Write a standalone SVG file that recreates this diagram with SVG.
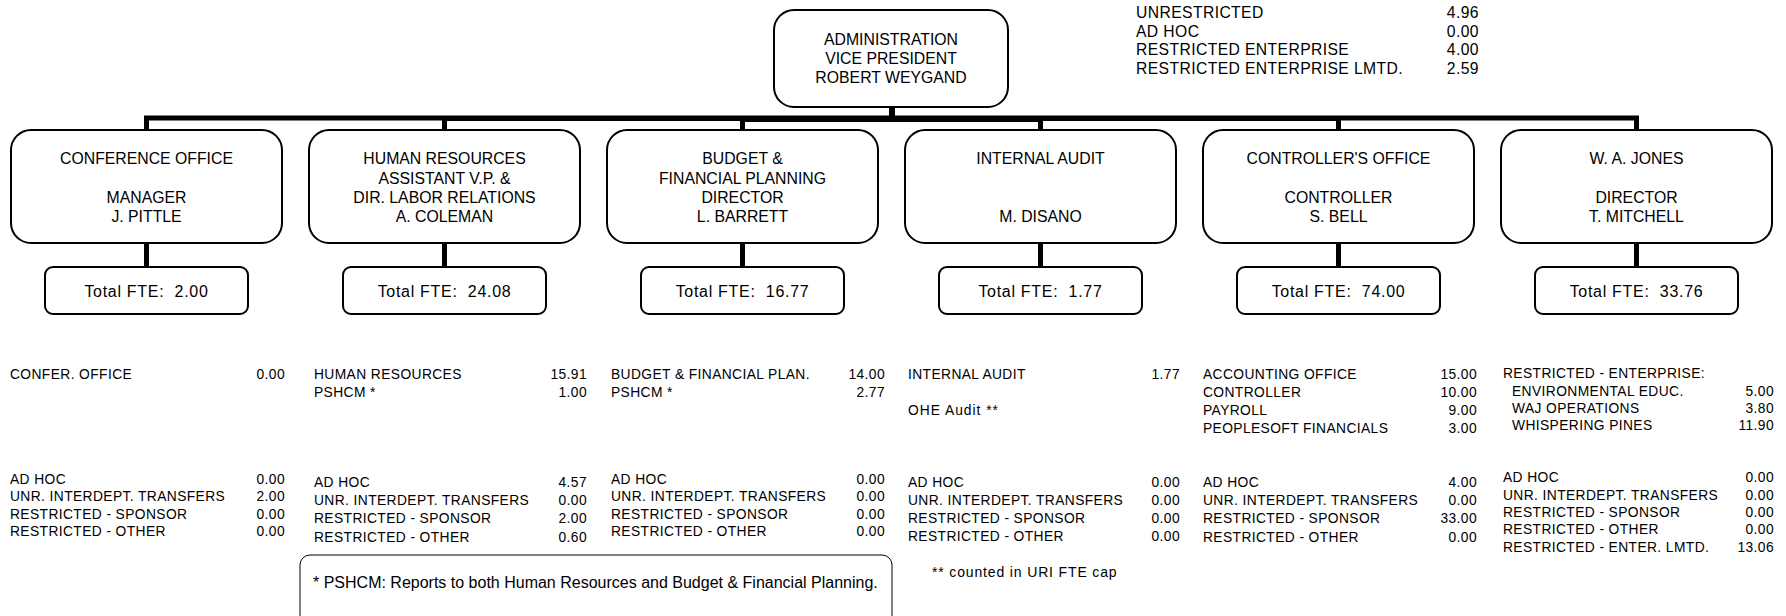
<svg xmlns="http://www.w3.org/2000/svg" width="1786" height="616" viewBox="0 0 1786 616">
<style>
.box{fill:#fff;stroke:#000;stroke-width:2}
.fte{fill:#fff;stroke:#000;stroke-width:2}
.note{fill:#fff;stroke:#000;stroke-width:1}
.conn{fill:none;stroke:#000;stroke-width:5}
.t{font-family:"Liberation Sans",Arial,sans-serif;font-size:15.8px;fill:#000;text-anchor:middle}
.f{font-family:"Liberation Sans",Arial,sans-serif;font-size:16px;letter-spacing:0.7px;fill:#000;text-anchor:middle}
.d{font-family:"Liberation Sans",Arial,sans-serif;font-size:13.8px;letter-spacing:0.4px;fill:#000}
.v{font-family:"Liberation Sans",Arial,sans-serif;font-size:13.8px;letter-spacing:0.4px;fill:#000;text-anchor:end}
.m{font-family:"Liberation Sans",Arial,sans-serif;font-size:13.8px;letter-spacing:1px;fill:#000}
.l{font-family:"Liberation Sans",Arial,sans-serif;font-size:15.7px;letter-spacing:0.4px;fill:#000}
.lv{font-family:"Liberation Sans",Arial,sans-serif;font-size:15.7px;letter-spacing:0.4px;fill:#000;text-anchor:end}
.n{font-family:"Liberation Sans",Arial,sans-serif;font-size:16px;fill:#000}
.c{font-family:"Liberation Sans",Arial,sans-serif;font-size:14px;letter-spacing:0.85px;fill:#000}
</style>

<g id="connectors">
<path class="conn" d="M892,107 V118 H146.5 V130"/>
<path class="conn" d="M892,107 V118.5 H444.5 V130"/>
<path class="conn" d="M892,107 V119.5 H742.5 V130"/>
<path class="conn" d="M892,107 V119.5 H1040.5 V130"/>
<path class="conn" d="M892,107 V118.5 H1338.5 V130"/>
<path class="conn" d="M892,107 V118 H1636.5 V130"/>
<path class="conn" d="M146.5,243 V267"/>
<path class="conn" d="M444.5,243 V267"/>
<path class="conn" d="M742.5,243 V267"/>
<path class="conn" d="M1040.5,243 V267"/>
<path class="conn" d="M1338.5,243 V267"/>
<path class="conn" d="M1636.5,243 V267"/>
</g>

<g id="admin">
<rect class="box" x="774" y="10" width="234" height="97" rx="20"/>
<text class="t" x="891" y="45">ADMINISTRATION</text>
<text class="t" x="891" y="64">VICE PRESIDENT</text>
<text class="t" x="891" y="83">ROBERT WEYGAND</text>
</g>

<g id="legend">
<text class="l" x="1136" y="18">UNRESTRICTED</text><text class="lv" x="1479" y="18">4.96</text>
<text class="l" x="1136" y="36.5">AD HOC</text><text class="lv" x="1479" y="36.5">0.00</text>
<text class="l" x="1136" y="55">RESTRICTED ENTERPRISE</text><text class="lv" x="1479" y="55">4.00</text>
<text class="l" x="1136" y="73.5">RESTRICTED ENTERPRISE LMTD.</text><text class="lv" x="1479" y="73.5">2.59</text>
</g>

<g id="conference">
<rect class="box" x="11" y="130" width="271" height="113" rx="20"/>
<text class="t" x="146.5" y="164">CONFERENCE OFFICE</text>
<text class="t" x="146.5" y="203">MANAGER</text>
<text class="t" x="146.5" y="222">J. PITTLE</text>
</g>
<g id="conference-fte">
<rect class="fte" x="45" y="267" width="203" height="47" rx="8"/>
<text class="f" x="146.5" y="297">Total FTE:&#160; 2.00</text>
</g>

<g id="hr">
<rect class="box" x="309" y="130" width="271" height="113" rx="20"/>
<text class="t" x="444.5" y="164">HUMAN RESOURCES</text>
<text class="t" x="444.5" y="183.5">ASSISTANT V.P. &amp;</text>
<text class="t" x="444.5" y="203">DIR. LABOR RELATIONS</text>
<text class="t" x="444.5" y="222">A. COLEMAN</text>
</g>
<g id="hr-fte">
<rect class="fte" x="343" y="267" width="203" height="47" rx="8"/>
<text class="f" x="444.5" y="297">Total FTE:&#160; 24.08</text>
</g>

<g id="budget">
<rect class="box" x="607" y="130" width="271" height="113" rx="20"/>
<text class="t" x="742.5" y="164">BUDGET &amp;</text>
<text class="t" x="742.5" y="183.5">FINANCIAL PLANNING</text>
<text class="t" x="742.5" y="203">DIRECTOR</text>
<text class="t" x="742.5" y="222">L. BARRETT</text>
</g>
<g id="budget-fte">
<rect class="fte" x="641" y="267" width="203" height="47" rx="8"/>
<text class="f" x="742.5" y="297">Total FTE:&#160; 16.77</text>
</g>

<g id="audit">
<rect class="box" x="905" y="130" width="271" height="113" rx="20"/>
<text class="t" x="1040.5" y="164">INTERNAL AUDIT</text>
<text class="t" x="1040.5" y="222">M. DISANO</text>
</g>
<g id="audit-fte">
<rect class="fte" x="939" y="267" width="203" height="47" rx="8"/>
<text class="f" x="1040.5" y="297">Total FTE:&#160; 1.77</text>
</g>

<g id="controller">
<rect class="box" x="1203" y="130" width="271" height="113" rx="20"/>
<text class="t" x="1338.5" y="164">CONTROLLER'S OFFICE</text>
<text class="t" x="1338.5" y="203">CONTROLLER</text>
<text class="t" x="1338.5" y="222">S. BELL</text>
</g>
<g id="controller-fte">
<rect class="fte" x="1237" y="267" width="203" height="47" rx="8"/>
<text class="f" x="1338.5" y="297">Total FTE:&#160; 74.00</text>
</g>

<g id="jones">
<rect class="box" x="1501" y="130" width="271" height="113" rx="20"/>
<text class="t" x="1636.5" y="164">W. A. JONES</text>
<text class="t" x="1636.5" y="203">DIRECTOR</text>
<text class="t" x="1636.5" y="222">T. MITCHELL</text>
</g>
<g id="jones-fte">
<rect class="fte" x="1535" y="267" width="203" height="47" rx="8"/>
<text class="f" x="1636.5" y="297">Total FTE:&#160; 33.76</text>
</g>

<g id="data-conference">
<text class="d" x="10" y="379">CONFER. OFFICE</text><text class="v" x="285" y="379">0.00</text>
<text class="d" x="10" y="483.5">AD HOC</text><text class="v" x="285" y="483.5">0.00</text>
<text class="d" x="10" y="501">UNR. INTERDEPT. TRANSFERS</text><text class="v" x="285" y="501">2.00</text>
<text class="d" x="10" y="518.5">RESTRICTED - SPONSOR</text><text class="v" x="285" y="518.5">0.00</text>
<text class="d" x="10" y="536">RESTRICTED - OTHER</text><text class="v" x="285" y="536">0.00</text>
</g>

<g id="data-hr">
<text class="d" x="314" y="379">HUMAN RESOURCES</text><text class="v" x="587" y="379">15.91</text>
<text class="d" x="314" y="396.7">PSHCM *</text><text class="v" x="587" y="396.7">1.00</text>
<text class="d" x="314" y="486.5">AD HOC</text><text class="v" x="587" y="486.5">4.57</text>
<text class="d" x="314" y="504.5">UNR. INTERDEPT. TRANSFERS</text><text class="v" x="587" y="504.5">0.00</text>
<text class="d" x="314" y="523">RESTRICTED - SPONSOR</text><text class="v" x="587" y="523">2.00</text>
<text class="d" x="314" y="541.5">RESTRICTED - OTHER</text><text class="v" x="587" y="541.5">0.60</text>
</g>

<g id="data-budget">
<text class="d" x="611" y="379">BUDGET &amp; FINANCIAL PLAN.</text><text class="v" x="885" y="379">14.00</text>
<text class="d" x="611" y="396.7">PSHCM *</text><text class="v" x="885" y="396.7">2.77</text>
<text class="d" x="611" y="483.5">AD HOC</text><text class="v" x="885" y="483.5">0.00</text>
<text class="d" x="611" y="501">UNR. INTERDEPT. TRANSFERS</text><text class="v" x="885" y="501">0.00</text>
<text class="d" x="611" y="518.5">RESTRICTED - SPONSOR</text><text class="v" x="885" y="518.5">0.00</text>
<text class="d" x="611" y="536">RESTRICTED - OTHER</text><text class="v" x="885" y="536">0.00</text>
</g>

<g id="data-audit">
<text class="d" x="908" y="379">INTERNAL AUDIT</text><text class="v" x="1180" y="379">1.77</text>
<text class="m" x="908" y="415">OHE Audit **</text>
<text class="d" x="908" y="486.5">AD HOC</text><text class="v" x="1180" y="486.5">0.00</text>
<text class="d" x="908" y="504.5">UNR. INTERDEPT. TRANSFERS</text><text class="v" x="1180" y="504.5">0.00</text>
<text class="d" x="908" y="522.7">RESTRICTED - SPONSOR</text><text class="v" x="1180" y="522.7">0.00</text>
<text class="d" x="908" y="540.5">RESTRICTED - OTHER</text><text class="v" x="1180" y="540.5">0.00</text>
<text class="c" x="932" y="577">** counted in URI FTE cap</text>
</g>

<g id="data-controller">
<text class="d" x="1203" y="379">ACCOUNTING OFFICE</text><text class="v" x="1477" y="379">15.00</text>
<text class="d" x="1203" y="397">CONTROLLER</text><text class="v" x="1477" y="397">10.00</text>
<text class="d" x="1203" y="415">PAYROLL</text><text class="v" x="1477" y="415">9.00</text>
<text class="d" x="1203" y="433">PEOPLESOFT FINANCIALS</text><text class="v" x="1477" y="433">3.00</text>
<text class="d" x="1203" y="486.5">AD HOC</text><text class="v" x="1477" y="486.5">4.00</text>
<text class="d" x="1203" y="505">UNR. INTERDEPT. TRANSFERS</text><text class="v" x="1477" y="505">0.00</text>
<text class="d" x="1203" y="523.3">RESTRICTED - SPONSOR</text><text class="v" x="1477" y="523.3">33.00</text>
<text class="d" x="1203" y="541.7">RESTRICTED - OTHER</text><text class="v" x="1477" y="541.7">0.00</text>
</g>

<g id="data-jones">
<text class="d" x="1503" y="378">RESTRICTED - ENTERPRISE:</text>
<text class="d" x="1512" y="395.7">ENVIRONMENTAL EDUC.</text><text class="v" x="1774" y="395.7">5.00</text>
<text class="d" x="1512" y="412.7">WAJ OPERATIONS</text><text class="v" x="1774" y="412.7">3.80</text>
<text class="d" x="1512" y="430">WHISPERING PINES</text><text class="v" x="1774" y="430">11.90</text>
<text class="d" x="1503" y="482">AD HOC</text><text class="v" x="1774" y="482">0.00</text>
<text class="d" x="1503" y="500">UNR. INTERDEPT. TRANSFERS</text><text class="v" x="1774" y="500">0.00</text>
<text class="d" x="1503" y="517">RESTRICTED - SPONSOR</text><text class="v" x="1774" y="517">0.00</text>
<text class="d" x="1503" y="534.3">RESTRICTED - OTHER</text><text class="v" x="1774" y="534.3">0.00</text>
<text class="d" x="1503" y="551.7">RESTRICTED - ENTER. LMTD.</text><text class="v" x="1774" y="551.7">13.06</text>
</g>

<g id="footnote">
<rect class="note" x="300" y="555" width="592" height="80" rx="10"/>
<text class="n" x="313" y="588">* PSHCM: Reports to both Human Resources and Budget &amp; Financial Planning.</text>
</g>
</svg>
